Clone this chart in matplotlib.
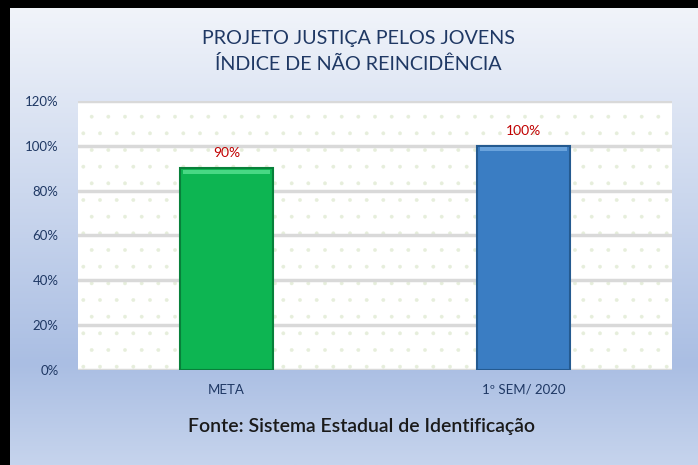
import matplotlib.pyplot as plt
import numpy as np
from matplotlib.colors import LinearSegmentedColormap

categorias = ['META', '1º SEM/ 2020']
valores = [0.90, 1.00]
rotulos = ['90%', '100%']
cores = ['#0db552', '#3a7dc3']
bordas = ['#08803a', '#245a90']
ticks_y = [0, 0.2, 0.4, 0.6, 0.8, 1.0, 1.2]

plt.rcParams['font.family'] = ['Lato', 'DejaVu Sans']
plt.rcParams['hatch.linewidth'] = 0.3

fig = plt.figure(figsize=(6.98, 4.65), dpi=100)
fig.patch.set_facecolor('black')

# painel com gradiente
bg = fig.add_axes([10 / 698, 0, 688 / 698, 457 / 465])
cmap = LinearSegmentedColormap.from_list('fundo', [(0, '#f1f4fa'), (0.78, '#aabee3'), (1, '#c6d4ed')])
grad = np.linspace(0, 1, 256).reshape(-1, 1)
bg.imshow(grad, aspect='auto', cmap=cmap, extent=[0, 1, 0, 1], origin='upper')
bg.set_axis_off()

ax = fig.add_axes([78 / 698, (465 - 370) / 465, 594 / 698, 269 / 465])
ax.set_facecolor('white')
ax.add_patch(plt.Rectangle((0, 0), 1, 1, transform=ax.transAxes, facecolor='none',
                           edgecolor='#e6eedb', hatch='.', linewidth=0, zorder=0))

x = np.arange(len(categorias))
ax.bar(x, valores, width=0.31, color=cores, edgecolor=bordas, linewidth=1.5, zorder=3)
# brilho no topo (efeito bisel)
ax.bar(x, [0.018, 0.018], bottom=[v - 0.024 for v in valores], width=0.295,
       color=['#48d884', '#6aa3dc'], linewidth=0, zorder=4)
for xi, v, r in zip(x, valores, rotulos):
    ax.text(xi, v + 0.04, r, ha='center', va='bottom', color='#c00000', fontsize=10)

ax.set_xlim(-0.5, 1.5)
ax.set_ylim(0, 1.2)
ax.set_yticks(ticks_y)
ax.set_yticklabels([f'{int(t * 100)}%' for t in ticks_y], color='#1f3864', fontsize=9.5)
ax.set_xticks(x)
ax.set_xticklabels(categorias, color='#1f3864', fontsize=9.5)
ax.tick_params(length=0, axis='y', pad=14)
ax.tick_params(length=0, axis='x', pad=10)
ax.yaxis.grid(True, color='#d9d9d9', linewidth=2.5, zorder=1)
ax.set_axisbelow(True)
for s in ax.spines.values():
    s.set_visible(False)

fig.text(358 / 698, 1 - 38 / 465, 'PROJETO JUSTIÇA PELOS JOVENS', ha='center', va='center',
         color='#1f3864', fontsize=14.2)
fig.text(358 / 698, 1 - 64 / 465, 'ÍNDICE DE NÃO REINCIDÊNCIA', ha='center', va='center',
         color='#1f3864', fontsize=14.2)
fig.text(361 / 698, 1 - 426 / 465, 'Fonte: Sistema Estadual de Identificação', ha='center', va='center',
         color='#1a1a1a', fontsize=14, fontweight='semibold')

fig.savefig('out.png', dpi=100, facecolor=fig.get_facecolor())
